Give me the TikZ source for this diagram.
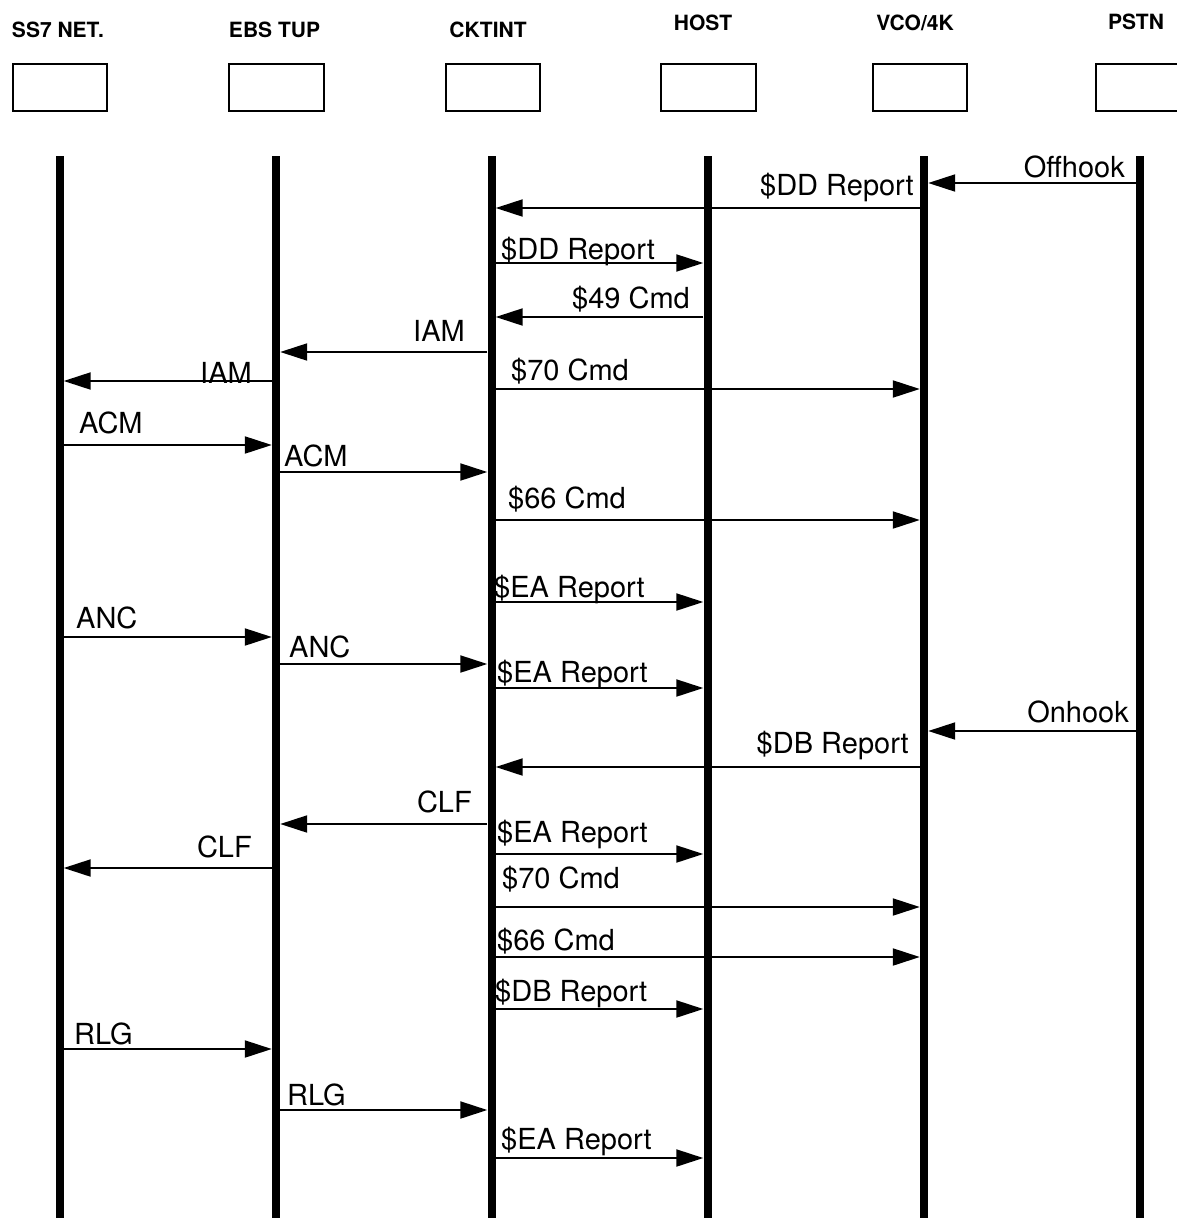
\documentclass[tikz,border=0pt]{standalone}
\usepackage{fontspec}
\setmainfont{TeX Gyre Heros}
\usetikzlibrary{arrows.meta}

\begin{document}
\begin{tikzpicture}[x=1pt, y=-1pt, every node/.style={font=\fontsize{29}{32}\selectfont},
  title/.style={font=\fontsize{21}{24}\selectfont\bfseries,anchor=base,inner sep=0},
  box/.style={draw,line width=2.4pt,minimum width=94.5pt,minimum height=46.5pt,inner sep=0},
  life/.style={fill=black,minimum width=8pt,minimum height=1062pt,inner sep=0},
  msg/.style={line width=2pt,-{Triangle[length=27pt,width=17pt]}},
  lbll/.style={anchor=base west,inner sep=0},
  lblr/.style={anchor=base east,inner sep=0}]
  \useasboundingbox (0,0) rectangle (1177,1218);

  \node[title] (t1) at (58,37) {SS7 NET.};
  \node[title] (t2) at (274.5,37) {EBS TUP};
  \node[title] (t3) at (488,37) {CKTINT};
  \node[title] (t4) at (703,30) {HOST};
  \node[title] (t5) at (915,30) {VCO/4K};
  \node[title] (t6) at (1136,29) {PSTN};

  \node[box] (b1) at (60,87.5) {};
  \node[box] (b2) at (276.5,87.5) {};
  \node[box] (b3) at (493,87.5) {};
  \node[box] (b4) at (708.5,87.5) {};
  \node[box] (b5) at (920,87.5) {};
  \node[box] (b6) at (1143.5,87.5) {};

  \node[life] (ss7) at (59.5,687) {};
  \node[life] (ebs) at (276,687) {};
  \node[life] (ckt) at (491.5,687) {};
  \node[life] (host) at (707.5,687) {};
  \node[life] (vco) at (924,687) {};
  \node[life] (pstn) at (1140,687) {};

  \draw[msg] (pstn.west |- 0,183) -- (vco.east |- 0,183);
  \node[lblr] (m1) at (1125,177) {Offhook};
  \draw[msg] (vco.west |- 0,208) -- (ckt.east |- 0,208);
  \node[lblr] (m2) at (914,195) {\$DD Report};
  \draw[msg] (ckt.east |- 0,263) -- (host.west |- 0,263);
  \node[lbll] (m3) at (501,259) {\$DD Report};
  \draw[msg] (host.west |- 0,317) -- (ckt.east |- 0,317);
  \node[lblr] (m4) at (690,308) {\$49 Cmd};
  \draw[msg] (ckt.west |- 0,352) -- (ebs.east |- 0,352);
  \node[lblr] (m5) at (465,341) {IAM};
  \draw[msg] (ebs.west |- 0,381) -- (ss7.east |- 0,381);
  \node[lblr] (m6) at (252,383) {IAM};
  \draw[msg] (ckt.east |- 0,389) -- (vco.west |- 0,389);
  \node[lbll] (m7) at (511,380) {\$70 Cmd};
  \draw[msg] (ss7.east |- 0,445) -- (ebs.west |- 0,445);
  \node[lbll] (m8) at (79,433) {ACM};
  \draw[msg] (ebs.east |- 0,472) -- (ckt.west |- 0,472);
  \node[lbll] (m9) at (284,466) {ACM};
  \draw[msg] (ckt.east |- 0,520) -- (vco.west |- 0,520);
  \node[lbll] (m10) at (508,508) {\$66 Cmd};

  \draw[msg] (ckt.east |- 0,602) -- (host.west |- 0,602);
  \node[lbll] (m11) at (494,597) {\$EA Report};
  \draw[msg] (ss7.east |- 0,637) -- (ebs.west |- 0,637);
  \node[lbll] (m12) at (76,628) {ANC};
  \draw[msg] (ebs.east |- 0,664) -- (ckt.west |- 0,664);
  \node[lbll] (m13) at (289,657) {ANC};
  \draw[msg] (ckt.east |- 0,688) -- (host.west |- 0,688);
  \node[lbll] (m14) at (497,682) {\$EA Report};
  \draw[msg] (pstn.west |- 0,731) -- (vco.east |- 0,731);
  \node[lblr] (m15) at (1129,722) {Onhook};
  \draw[msg] (vco.west |- 0,767) -- (ckt.east |- 0,767);
  \node[lblr] (m16) at (909,753) {\$DB Report};
  \draw[msg] (ckt.west |- 0,824) -- (ebs.east |- 0,824);
  \node[lblr] (m17) at (472,812) {CLF};
  \draw[msg] (ckt.east |- 0,854) -- (host.west |- 0,854);
  \node[lbll] (m18) at (497,842) {\$EA Report};
  \draw[msg] (ebs.west |- 0,868) -- (ss7.east |- 0,868);
  \node[lblr] (m19) at (252,857) {CLF};
  \draw[msg] (ckt.east |- 0,907) -- (vco.west |- 0,907);
  \node[lbll] (m20) at (502,888) {\$70 Cmd};
  \draw[msg] (ckt.east |- 0,957) -- (vco.west |- 0,957);
  \node[lbll] (m21) at (497,950) {\$66 Cmd};
  \draw[msg] (ckt.east |- 0,1009) -- (host.west |- 0,1009);
  \node[lbll] (m22) at (495,1001) {\$DB Report};
  \draw[msg] (ss7.east |- 0,1049) -- (ebs.west |- 0,1049);
  \node[lbll] (m23) at (74,1044) {RLG};
  \draw[msg] (ebs.east |- 0,1110) -- (ckt.west |- 0,1110);
  \node[lbll] (m24) at (287,1105) {RLG};
  \draw[msg] (ckt.east |- 0,1158) -- (host.west |- 0,1158);
  \node[lbll] (m25) at (501,1149) {\$EA Report};
\end{tikzpicture}
\end{document}
